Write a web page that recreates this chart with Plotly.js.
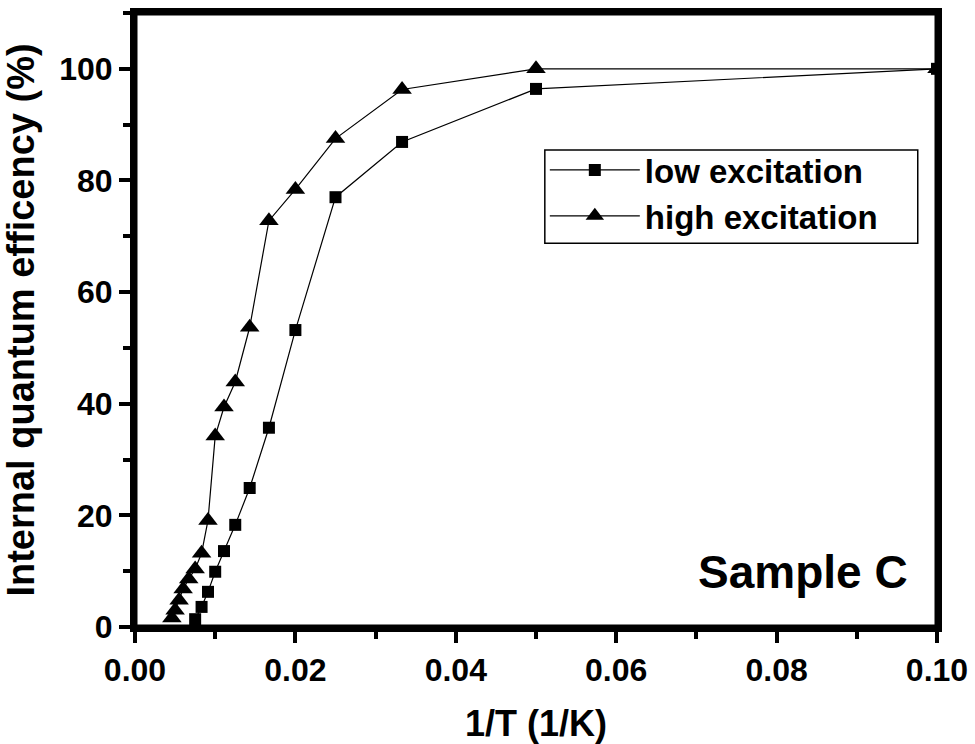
<!DOCTYPE html>
<html>
<head>
<meta charset="utf-8">
<script src="https://cdn.plot.ly/plotly-3.0.1.min.js"></script>
<style>html,body{margin:0;padding:0;background:#fff;}#chart{width:975px;height:744px;}</style>
</head>
<body>
<div id="chart"></div>
<script>
// Low excitation (squares)
const lowX = [0.0075, 0.0083, 0.0091, 0.0100, 0.0111, 0.0125, 0.0143, 0.0167, 0.0200, 0.0250, 0.0333, 0.0500, 0.1000];
const lowY = [1.4, 3.6, 6.3, 9.9, 13.6, 18.3, 24.9, 35.7, 53.2, 77.0, 86.9, 96.4, 100.0];
// High excitation (triangles)
const highX = [0.0046, 0.0050, 0.0055, 0.0060, 0.0067, 0.0075, 0.0083, 0.0091, 0.0100, 0.0111, 0.0125, 0.0143, 0.0167, 0.0200, 0.0250, 0.0333, 0.0500, 0.1000];
const highY = [1.6, 3.0, 4.8, 6.8, 8.6, 10.4, 13.2, 19.1, 34.2, 39.4, 43.9, 53.7, 72.8, 78.4, 87.5, 96.3, 100.0, 100.0];
const seriesNames = ["low excitation", "high excitation"];
const xTitle = "1/T (1/K)";
const yTitle = "Internal quantum efficency (%)";
const sampleLabel = "Sample C";

const FONT = "Liberation Sans, Arial, sans-serif";

const traces = [
  {x: lowX, y: lowY, name: seriesNames[0], type: "scatter", mode: "lines+markers",
   line: {color: "#000", width: 1.2},
   marker: {symbol: "square", size: 12, color: "#000"}},
  {x: highX, y: highY, name: seriesNames[1], type: "scatter", mode: "lines+markers",
   line: {color: "#000", width: 1.2},
   marker: {symbol: "triangle-up", size: 17, color: "#000"}}
];

const axisCommon = {
  showline: true, linecolor: "#000", linewidth: 5, mirror: true,
  showgrid: false, zeroline: false,
  ticks: "outside", ticklen: 11, tickwidth: 4, tickcolor: "#000",
  tickfont: {family: FONT, size: 32, color: "#000", weight: 700}
};

const layout = {
  width: 975, height: 744,
  margin: {l: 135, r: 38, t: 13, b: 117},
  paper_bgcolor: "#fff", plot_bgcolor: "#fff",
  showlegend: true,
  xaxis: Object.assign({}, axisCommon, {
    range: [0, 0.1], dtick: 0.02, tick0: 0, tickformat: ".2f",
    minor: {dtick: 0.01, ticks: "outside", ticklen: 7, tickwidth: 4, tickcolor: "#000"},
    title: {text: xTitle, font: {family: FONT, size: 36, color: "#000", weight: 700}, standoff: 26}
  }),
  yaxis: Object.assign({}, axisCommon, {
    range: [0, 110], dtick: 20, tick0: 0,
    minor: {dtick: 10, ticks: "outside", ticklen: 7, tickwidth: 4, tickcolor: "#000"},
    title: {text: yTitle, font: {family: FONT, size: 38, color: "#000", weight: 700}, standoff: 14}
  }),
  legend: {
    x: 0.511, y: 0.79, xanchor: "left", yanchor: "top",
    bgcolor: "rgba(0,0,0,0)", borderwidth: 0,
    font: {family: FONT, size: 33, color: "#000", weight: 700},
    itemwidth: 90, tracegroupgap: 0
  },
  shapes: [
    {type: "rect", xref: "paper", yref: "paper", x0: 0, x1: 1, y0: 0, y1: 1,
     line: {color: "#000", width: 5}, layer: "above"},
    {type: "rect", xref: "paper", yref: "paper", x0: 0.511, x1: 0.976, y0: 0.625, y1: 0.777,
     line: {color: "#000", width: 1.5}, fillcolor: "#fff", layer: "below"}
  ],
  annotations: [{
    text: sampleLabel, xref: "paper", yref: "paper", x: 0.966, y: 0.09,
    xanchor: "right", yanchor: "middle", showarrow: false,
    font: {family: FONT, size: 46, color: "#000", weight: 700}
  }]
};

Plotly.newPlot("chart", traces, layout, {displayModeBar: false, staticPlot: true});
</script>
</body>
</html>
